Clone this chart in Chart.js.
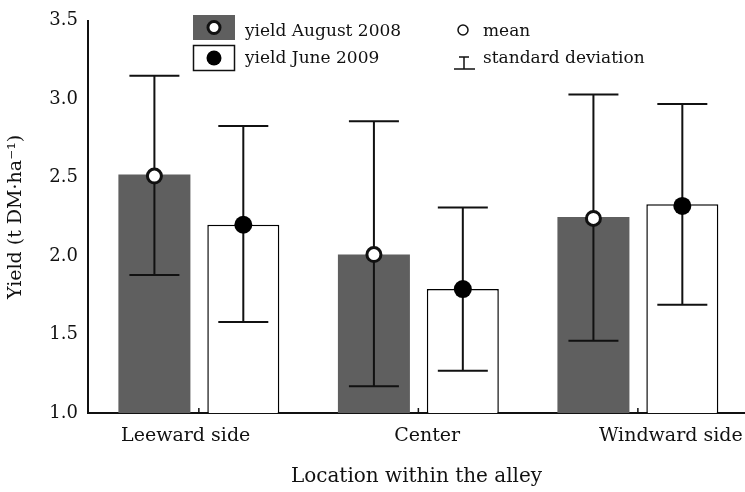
<!DOCTYPE html>
<html>
<head>
<meta charset="utf-8">
<script src="https://cdn.jsdelivr.net/npm/chart.js@4/dist/chart.umd.min.js"></script>
<style>
    body { margin: 0; background: #fff; }
    .chart-area { width: 745px; height: 492px; }
</style>
</head>
<body>
<div class="chart-area"><canvas id="yield-chart"></canvas></div>
<script>
const categories = ["Leeward side", "Center", "Windward side"];
const yieldAug2008 = [2.52, 2.01, 2.25];
const yieldJun2009 = [2.20, 1.79, 2.33];
const meanAug2008 = [2.51, 2.01, 2.24];
const meanJun2009 = [2.20, 1.79, 2.32];
const upperAug2008 = [3.15, 2.86, 3.03];
const lowerAug2008 = [1.88, 1.17, 1.46];
const upperJun2009 = [2.83, 2.31, 2.97];
const lowerJun2009 = [1.58, 1.27, 1.69];
const yMin = 1.0;
const yMax = 3.5;
const yStep = 0.5;

// where the category names sit along the x axis (in group units)
const labelAt = [-0.06, 1.04, 2.15];

const serif = "'DejaVu Serif', serif";
const ink = "#111";

const errorBars = {
    id: "errorBars",
    afterDatasetsDraw(chart) {
        const { ctx } = chart;
        const y = chart.scales.y;
        const sets = [
            { upper: upperAug2008, lower: lowerAug2008, mean: meanAug2008, hollow: true },
            { upper: upperJun2009, lower: lowerJun2009, mean: meanJun2009, hollow: false },
        ];
        ctx.save();
        sets.forEach((s, i) => {
            const meta = chart.getDatasetMeta(i);
            meta.data.forEach((bar, j) => {
                const x = bar.x;
                const top = y.getPixelForValue(s.upper[j]);
                const bottom = y.getPixelForValue(s.lower[j]);
                ctx.strokeStyle = ink;
                ctx.lineWidth = 2;
                ctx.beginPath();
                ctx.moveTo(x, top);
                ctx.lineTo(x, bottom);
                ctx.moveTo(x - 25, top);
                ctx.lineTo(x + 25, top);
                ctx.moveTo(x - 25, bottom);
                ctx.lineTo(x + 25, bottom);
                ctx.stroke();

                const my = y.getPixelForValue(s.mean[j]);
                ctx.beginPath();
                if (s.hollow) {
                    ctx.arc(x, my, 7, 0, Math.PI * 2);
                    ctx.fillStyle = "#fff";
                    ctx.fill();
                    ctx.lineWidth = 3;
                    ctx.stroke();
                } else {
                    ctx.arc(x, my, 9, 0, Math.PI * 2);
                    ctx.fillStyle = "#000";
                    ctx.fill();
                }
            });
        });
        // small inward ticks on the x axis at each group centre
        const xs = chart.scales.x;
        ctx.lineWidth = 1.5;
        ctx.beginPath();
        categories.forEach((c, i) => {
            const px = xs.getPixelForValue(i);
            ctx.moveTo(px, xs.top);
            ctx.lineTo(px, xs.top - 5);
        });
        ctx.stroke();
        ctx.restore();
    },
};

const legendBox = {
    id: "legendBox",
    afterDraw(chart) {
        const { ctx } = chart;
        ctx.save();
        ctx.fillStyle = "#5f5f5f";
        ctx.fillRect(193, 15, 42, 25);
        ctx.beginPath();
        ctx.arc(214, 27.5, 6, 0, Math.PI * 2);
        ctx.fillStyle = "#fff";
        ctx.fill();
        ctx.lineWidth = 3;
        ctx.strokeStyle = ink;
        ctx.stroke();

        ctx.lineWidth = 1.5;
        ctx.strokeRect(193.5, 45.5, 41, 25);
        ctx.beginPath();
        ctx.arc(214, 58, 7.5, 0, Math.PI * 2);
        ctx.fillStyle = "#000";
        ctx.fill();

        ctx.beginPath();
        ctx.arc(463, 30, 5, 0, Math.PI * 2);
        ctx.lineWidth = 1.5;
        ctx.stroke();

        ctx.beginPath();
        ctx.moveTo(464, 57);
        ctx.lineTo(464, 69);
        ctx.moveTo(454, 69);
        ctx.lineTo(475, 69);
        ctx.moveTo(459, 57);
        ctx.lineTo(469, 57);
        ctx.stroke();

        ctx.fillStyle = ink;
        ctx.font = "17px " + serif;
        ctx.textBaseline = "alphabetic";
        ctx.fillText(chart.data.datasets[0].label, 245, 36);
        ctx.fillText(chart.data.datasets[1].label, 245, 63);
        ctx.fillText("mean", 483, 36);
        ctx.fillText("standard deviation", 483, 63);
        ctx.restore();
    },
};

new Chart(document.querySelector("#yield-chart"), {
    type: "bar",
    data: {
        datasets: [
            {
                label: "yield August 2008",
                data: yieldAug2008.map((v, i) => ({ x: i, y: v })),
                backgroundColor: "#5f5f5f",
                borderWidth: 0,
                base: yMin,
                categoryPercentage: 0.81,
                barPercentage: 0.81,
            },
            {
                label: "yield June 2009",
                data: yieldJun2009.map((v, i) => ({ x: i, y: v })),
                backgroundColor: "#fff",
                borderColor: "#000",
                borderWidth: 1.5,
                base: yMin,
                categoryPercentage: 0.81,
                barPercentage: 0.81,
            },
        ],
    },
    options: {
        responsive: true,
        maintainAspectRatio: false,
        animation: false,
        layout: { padding: { top: 20, right: 0, bottom: 0, left: 0 } },
        plugins: {
            legend: { display: false },
            tooltip: { enabled: false },
        },
        scales: {
            x: {
                type: "linear",
                offset: false,
                min: -0.505,
                max: 2.488,
                grid: { display: false, drawTicks: false },
                border: { color: ink, width: 2 },
                afterBuildTicks: (scale) => {
                    scale.ticks = labelAt.map((v) => ({ value: v }));
                },
                afterFit: (scale) => {
                    scale.height = 79;
                    scale.paddingLeft = 0;
                    scale.paddingRight = 0;
                },
                ticks: {
                    autoSkip: false,
                    maxRotation: 0,
                    padding: 12,
                    color: ink,
                    font: { family: serif, size: 19 },
                    callback: (v, i) => categories[i],
                },
                title: {
                    display: true,
                    text: "Location within the alley",
                    color: ink,
                    font: { family: serif, size: 20 },
                    padding: { top: 0, bottom: 3 },
                },
            },
            y: {
                min: yMin,
                max: yMax,
                grid: { display: false, drawTicks: false },
                border: { color: ink, width: 2 },
                afterFit: (scale) => {
                    scale.width = 88;
                },
                ticks: {
                    stepSize: yStep,
                    padding: 10,
                    color: ink,
                    font: { family: serif, size: 18 },
                    callback: (v) => v.toFixed(1),
                },
                title: {
                    display: true,
                    text: "Yield (t DM·ha⁻¹)",
                    color: ink,
                    font: { family: serif, size: 19 },
                    padding: { top: 5, bottom: 0 },
                },
            },
        },
    },
    plugins: [errorBars, legendBox],
});
</script>
</body>
</html>
